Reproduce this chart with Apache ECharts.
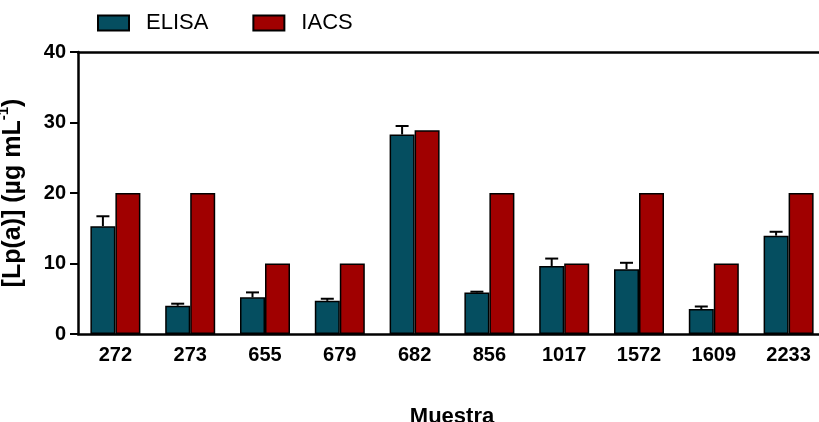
<!DOCTYPE html>
<html>
<head>
<meta charset="utf-8">
<script src="https://cdn.jsdelivr.net/npm/echarts@6/dist/echarts.min.js"></script>
<style>
html,body{margin:0;padding:0;background:#fff;}
#chart{width:819px;height:422px;}
</style>
</head>
<body>
<div id="chart"></div>
<script>
const categories = ['272','273','655','679','682','856','1017','1572','1609','2233'];
const elisaValues = [15.3, 4.0, 5.2, 4.7, 28.3, 5.9, 9.65, 9.2, 3.55, 13.95];
const elisaSD = [1.4, 0.3, 0.7, 0.3, 1.2, 0.1, 1.05, 0.9, 0.35, 0.55];
const iacsValues = [20, 20, 10, 10, 28.9, 20, 10, 20, 10, 20];
const yTicks = [0, 10, 20, 30, 40];

const FONT = "'Liberation Sans', Arial, sans-serif";
const BAR_W = 25;

const errData = categories.map((c, i) => [i, elisaValues[i] + elisaSD[i], elisaValues[i]]);

const chart = echarts.init(document.getElementById('chart'));
chart.setOption({
  animation: false,
  backgroundColor: '#ffffff',
  textStyle: { fontFamily: FONT },
  legend: {
    left: 97, top: 12, padding: 0,
    itemWidth: 31, itemHeight: 15, itemGap: 44,
    icon: 'rect',
    textStyle: { fontFamily: FONT, fontSize: 22, color: '#000', padding: [0, 0, 0, 12] },
    data: ['ELISA', 'IACS']
  },
  grid: { left: 78, right: -7, top: 52, bottom: 88, containLabel: false, outerBoundsMode: 'none' },
  xAxis: [{
    type: 'category',
    data: categories,
    position: 'bottom',
    name: 'Muestra',
    nameLocation: 'middle',
    nameGap: 72,
    nameTextStyle: { fontFamily: FONT, fontSize: 22, fontWeight: 'bold', color: '#000' },
    axisLine: { lineStyle: { color: '#000', width: 2.5 } },
    axisTick: { alignWithLabel: true, length: 8, lineStyle: { color: '#000', width: 2 } },
    axisLabel: { fontFamily: FONT, fontSize: 20, fontWeight: 'bold', color: '#000', margin: 11 },
    splitLine: { show: false }
  }, {
    type: 'category',
    data: categories,
    position: 'top',
    axisLine: { lineStyle: { color: '#000', width: 2.5 } },
    axisTick: { show: false },
    axisLabel: { show: false },
    splitLine: { show: false }
  }],
  yAxis: {
    type: 'value',
    min: yTicks[0], max: yTicks[yTicks.length - 1], interval: 10,
    name: '{a|[Lp(a)] (µg mL}{b|-1}{a|)}',
    nameLocation: 'middle',
    nameRotate: 90,
    nameGap: 52,
    nameTextStyle: {
      rich: {
        a: { fontFamily: FONT, fontSize: 25, fontWeight: 'bold', color: '#000', lineHeight: 30, verticalAlign: 'bottom' },
        b: { fontFamily: FONT, fontSize: 15, fontWeight: 'bold', color: '#000', lineHeight: 30, verticalAlign: 'top' }
      }
    },
    axisLine: { show: true, lineStyle: { color: '#000', width: 2.5 } },
    axisTick: { show: true, length: 8, lineStyle: { color: '#000', width: 2 } },
    axisLabel: { fontFamily: FONT, fontSize: 20, fontWeight: 'bold', color: '#000', margin: 12 },
    splitLine: { show: false }
  },
  series: [{
    name: 'ELISA',
    type: 'bar',
    xAxisIndex: 0,
    data: elisaValues,
    barWidth: BAR_W,
    barGap: '0%',
    itemStyle: { color: '#054E60', borderColor: '#000', borderWidth: 1.5 }
  }, {
    name: 'IACS',
    type: 'bar',
    xAxisIndex: 0,
    data: iacsValues,
    barWidth: BAR_W,
    barGap: '0%',
    itemStyle: { color: '#A00000', borderColor: '#000', borderWidth: 1.5 }
  }, {
    name: 'err',
    type: 'custom',
    xAxisIndex: 0,
    data: errData,
    z: 5,
    renderItem: function (params, api) {
      const i = api.value(0);
      const top = api.coord([i, api.value(1)]);
      const base = api.coord([i, api.value(2)]);
      const x = top[0] - BAR_W / 2;
      const style = { stroke: '#000', lineWidth: 2 };
      return {
        type: 'group',
        children: [
          { type: 'line', shape: { x1: x, y1: base[1], x2: x, y2: top[1] }, style: style },
          { type: 'line', shape: { x1: x - 6.5, y1: top[1], x2: x + 6.5, y2: top[1] }, style: style }
        ]
      };
    }
  }]
});
</script>
</body>
</html>
